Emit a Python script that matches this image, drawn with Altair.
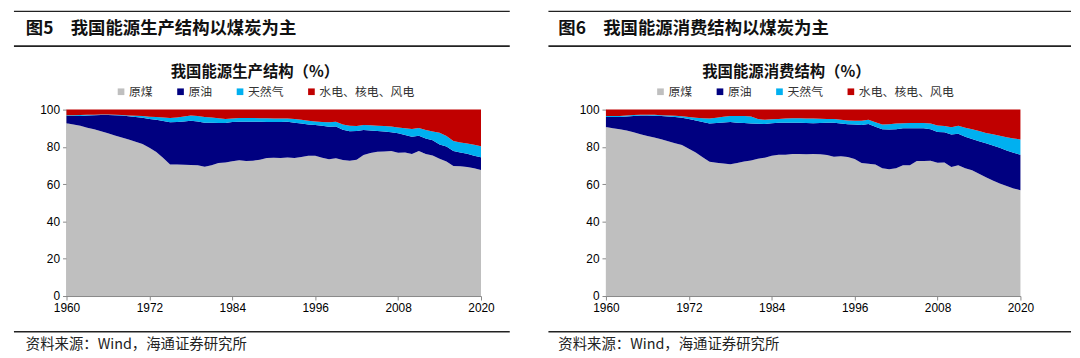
import altair as alt
import pandas as pd

years = list(range(1960, 2021))
series_names = ["原煤", "原油", "天然气", "水电、核电、风电"]
colors = ["#BFBFBF", "#000080", "#00B0F0", "#C00000"]

# Production structure: cumulative upper boundary of each band (%)
prod_coal_top = [92.7, 92.0, 91.3, 90.3, 89.4, 88.4, 87.3, 86.1, 85.0, 83.9,
                 82.7, 81.5, 79.5, 77.3, 74.0, 70.6, 70.5, 70.4, 70.3, 70.2,
                 69.4, 70.2, 71.3, 71.6, 72.3, 72.8, 72.4, 72.6, 73.1, 74.1,
                 74.2, 74.1, 74.3, 74.0, 74.6, 75.3, 75.2, 74.2, 73.3, 73.9,
                 72.9, 72.6, 73.1, 75.7, 76.7, 77.4, 77.5, 77.8, 76.8, 77.0,
                 76.2, 77.8, 76.2, 75.4, 73.6, 72.2, 69.8, 69.6, 69.2, 68.5, 67.6]
prod_oil_top = [96.5, 96.6, 96.6, 96.8, 97.0, 97.1, 97.1, 97.0, 96.8, 96.4,
                96.0, 95.6, 95.0, 94.5, 93.9, 93.2, 93.3, 93.6, 94.0, 93.6,
                93.0, 92.9, 92.8, 92.8, 93.3, 93.5, 93.5, 93.5, 93.5, 93.4,
                93.3, 93.4, 93.5, 93.0, 92.5, 92.0, 91.8, 91.3, 90.8, 90.9,
                89.2, 88.4, 88.5, 89.1, 88.8, 88.5, 88.2, 87.9, 87.3, 86.4,
                85.5, 86.0, 84.5, 83.5, 81.3, 80.2, 77.8, 77.0, 76.3, 75.3, 74.5]
prod_gas_top = [97.0, 97.0, 97.1, 97.2, 97.3, 97.4, 97.4, 97.3, 97.1, 96.9,
                96.7, 96.5, 96.2, 96.0, 95.7, 95.5, 95.8, 96.3, 96.8, 96.5,
                96.0, 95.7, 95.3, 95.0, 95.2, 95.5, 95.5, 95.5, 95.4, 95.3,
                95.2, 95.2, 95.2, 95.0, 94.5, 94.0, 93.6, 93.4, 93.2, 93.5,
                92.0, 91.3, 91.2, 91.8, 91.6, 91.4, 91.2, 91.0, 90.4, 90.0,
                89.6, 90.1, 89.0, 88.3, 87.6, 85.8, 83.2, 82.4, 81.8, 81.1, 80.4]

# Consumption structure: cumulative upper boundary of each band (%)
cons_coal_top = [90.6, 90.0, 89.5, 88.8, 87.8, 86.8, 85.9, 85.0, 84.1, 83.0,
                 82.0, 81.0, 79.0, 77.0, 74.5, 72.0, 71.5, 71.1, 70.7, 71.4,
                 72.2, 72.7, 73.7, 74.2, 75.3, 75.8, 75.8, 76.2, 76.2, 76.1,
                 76.2, 76.1, 75.7, 74.7, 75.0, 74.6, 73.5, 71.4, 70.9, 70.6,
                 68.5, 68.0, 68.5, 70.2, 70.2, 72.4, 72.4, 72.5, 71.5, 71.6,
                 69.2, 70.2, 68.5, 67.4, 65.6, 63.7, 62.0, 60.4, 59.0, 57.7, 56.8]
cons_oil_top = [96.0, 96.0, 96.0, 96.3, 96.6, 96.8, 96.8, 96.7, 96.5, 96.3,
                96.0, 95.6, 95.0, 94.2, 93.3, 92.5, 92.8, 93.1, 93.3, 93.0,
                92.8, 92.6, 92.4, 92.3, 92.7, 92.9, 93.0, 93.0, 93.0, 92.8,
                92.7, 92.8, 93.0, 93.0, 92.5, 92.2, 92.0, 91.8, 92.3, 90.8,
                89.5, 89.3, 89.5, 90.0, 90.0, 90.0, 90.0, 89.5, 88.0, 87.8,
                86.7, 87.0, 85.5, 84.2, 83.0, 82.0, 80.7, 79.5, 78.0, 76.8, 75.8]
cons_gas_top = [96.5, 96.5, 96.6, 96.9, 97.1, 97.3, 97.3, 97.2, 97.0, 96.8,
                96.7, 96.4, 96.0, 95.6, 95.3, 95.2, 95.6, 96.1, 96.5, 96.5,
                96.5, 96.3, 95.0, 94.5, 94.8, 95.0, 95.2, 95.3, 95.3, 95.2,
                95.2, 95.1, 95.0, 95.0, 94.5, 94.2, 94.0, 94.0, 94.5, 93.2,
                92.0, 92.2, 92.5, 92.7, 92.8, 92.8, 92.8, 92.5, 91.5, 91.2,
                90.5, 91.4, 90.3, 89.5, 88.5, 87.5, 86.8, 86.0, 85.2, 84.5, 84.0]
total_top = [100.0] * len(years)

x_ticks = [1960, 1972, 1984, 1996, 2008, 2020]
y_ticks = [0, 20, 40, 60, 80, 100]

CJK = "Noto Sans CJK SC"
LAT = "Liberation Sans"
H = 188


def band_table(coal_top, oil_top, gas_top):
    rows = []
    bounds = [[0.0] * len(years), coal_top, oil_top, gas_top, total_top]
    for k, name in enumerate(series_names):
        for i, yr in enumerate(years):
            rows.append({"year": yr, "type": name, "order": k,
                         "lo": bounds[k][i], "hi": bounds[k + 1][i]})
    return pd.DataFrame(rows)


def one(val):
    return pd.DataFrame({"t": [val]})


def panel(df, heading, title, w, rule_l, rule_r, head_x, title_x, leg_x):
    area = alt.Chart(df).mark_area(opacity=1, interpolate="linear").encode(
        x=alt.X("year:Q", scale=alt.Scale(domain=[1960, 2020], nice=False, zero=False),
                axis=alt.Axis(values=x_ticks, format="d", title=None, grid=False,
                              labelFont=LAT, labelFontSize=12, labelColor="#000",
                              domainColor="#888", tickColor="#888", tickSize=4,
                              labelPadding=3, labelFlush=False)),
        y=alt.Y("hi:Q", scale=alt.Scale(domain=[0, 100], nice=False),
                axis=alt.Axis(values=y_ticks, title=None, grid=False,
                              labelFont=LAT, labelFontSize=12, labelColor="#000",
                              domainColor="#888", tickColor="#888", tickSize=4,
                              labelPadding=3)),
        y2="lo:Q",
        color=alt.Color("type:N", scale=alt.Scale(domain=series_names, range=colors),
                        legend=alt.Legend(orient="none", legendX=leg_x, legendY=-24,
                                          direction="horizontal", title=None,
                                          symbolType="square", symbolSize=45,
                                          symbolStrokeWidth=0, labelFont=CJK,
                                          labelFontSize=12, labelColor="#333",
                                          columnPadding=21, labelOffset=2,
                                          labelLimit=300)),
        order=alt.Order("order:Q"),
    ).properties(width=w, height=H)

    def rule(y, sw):
        return alt.Chart(one("")).mark_rule(color="#222", strokeWidth=sw).encode(
            x=alt.value(rule_l), x2=alt.value(rule_r), y=alt.value(y))

    head = alt.Chart(one(heading)).mark_text(
        align="left", baseline="middle", font=CJK, fontSize=17.5, fontWeight="bold",
        color="#111").encode(x=alt.value(head_x), y=alt.value(-81), text="t:N")
    ttl = alt.Chart(one(title)).mark_text(
        align="center", baseline="middle", font=CJK, fontSize=15.5, fontWeight="bold",
        color="#111").encode(x=alt.value(title_x), y=alt.value(-38), text="t:N")
    src = alt.Chart(one("资料来源：Wind，海通证券研究所")).mark_text(
        align="left", baseline="middle", font=CJK, fontSize=14.5, color="#222").encode(
        x=alt.value(head_x), y=alt.value(237), text="t:N")
    return alt.layer(area, rule(-99, 1.3), rule(-64, 1.6), rule(224, 1.6), head, ttl, src)


left = panel(band_table(prod_coal_top, prod_oil_top, prod_gas_top),
             "图5\u3000我国能源生产结构以煤炭为主", "我国能源生产结构（%）",
             418, -53, 447, -41, 190, 49)
right = panel(band_table(cons_coal_top, cons_oil_top, cons_gas_top),
              "图6\u3000我国能源消费结构以煤炭为主", "我国能源消费结构（%）",
              418, -58, 469, -48, 182, 49)

chart = alt.hconcat(left, right, spacing=37).properties(
    padding={"left": 5, "top": 1, "right": 0, "bottom": 0},
    background="white",
).configure_view(stroke=None).resolve_scale(color="independent")

chart.save("out.html", embed_options={"renderer": "svg", "actions": False})
